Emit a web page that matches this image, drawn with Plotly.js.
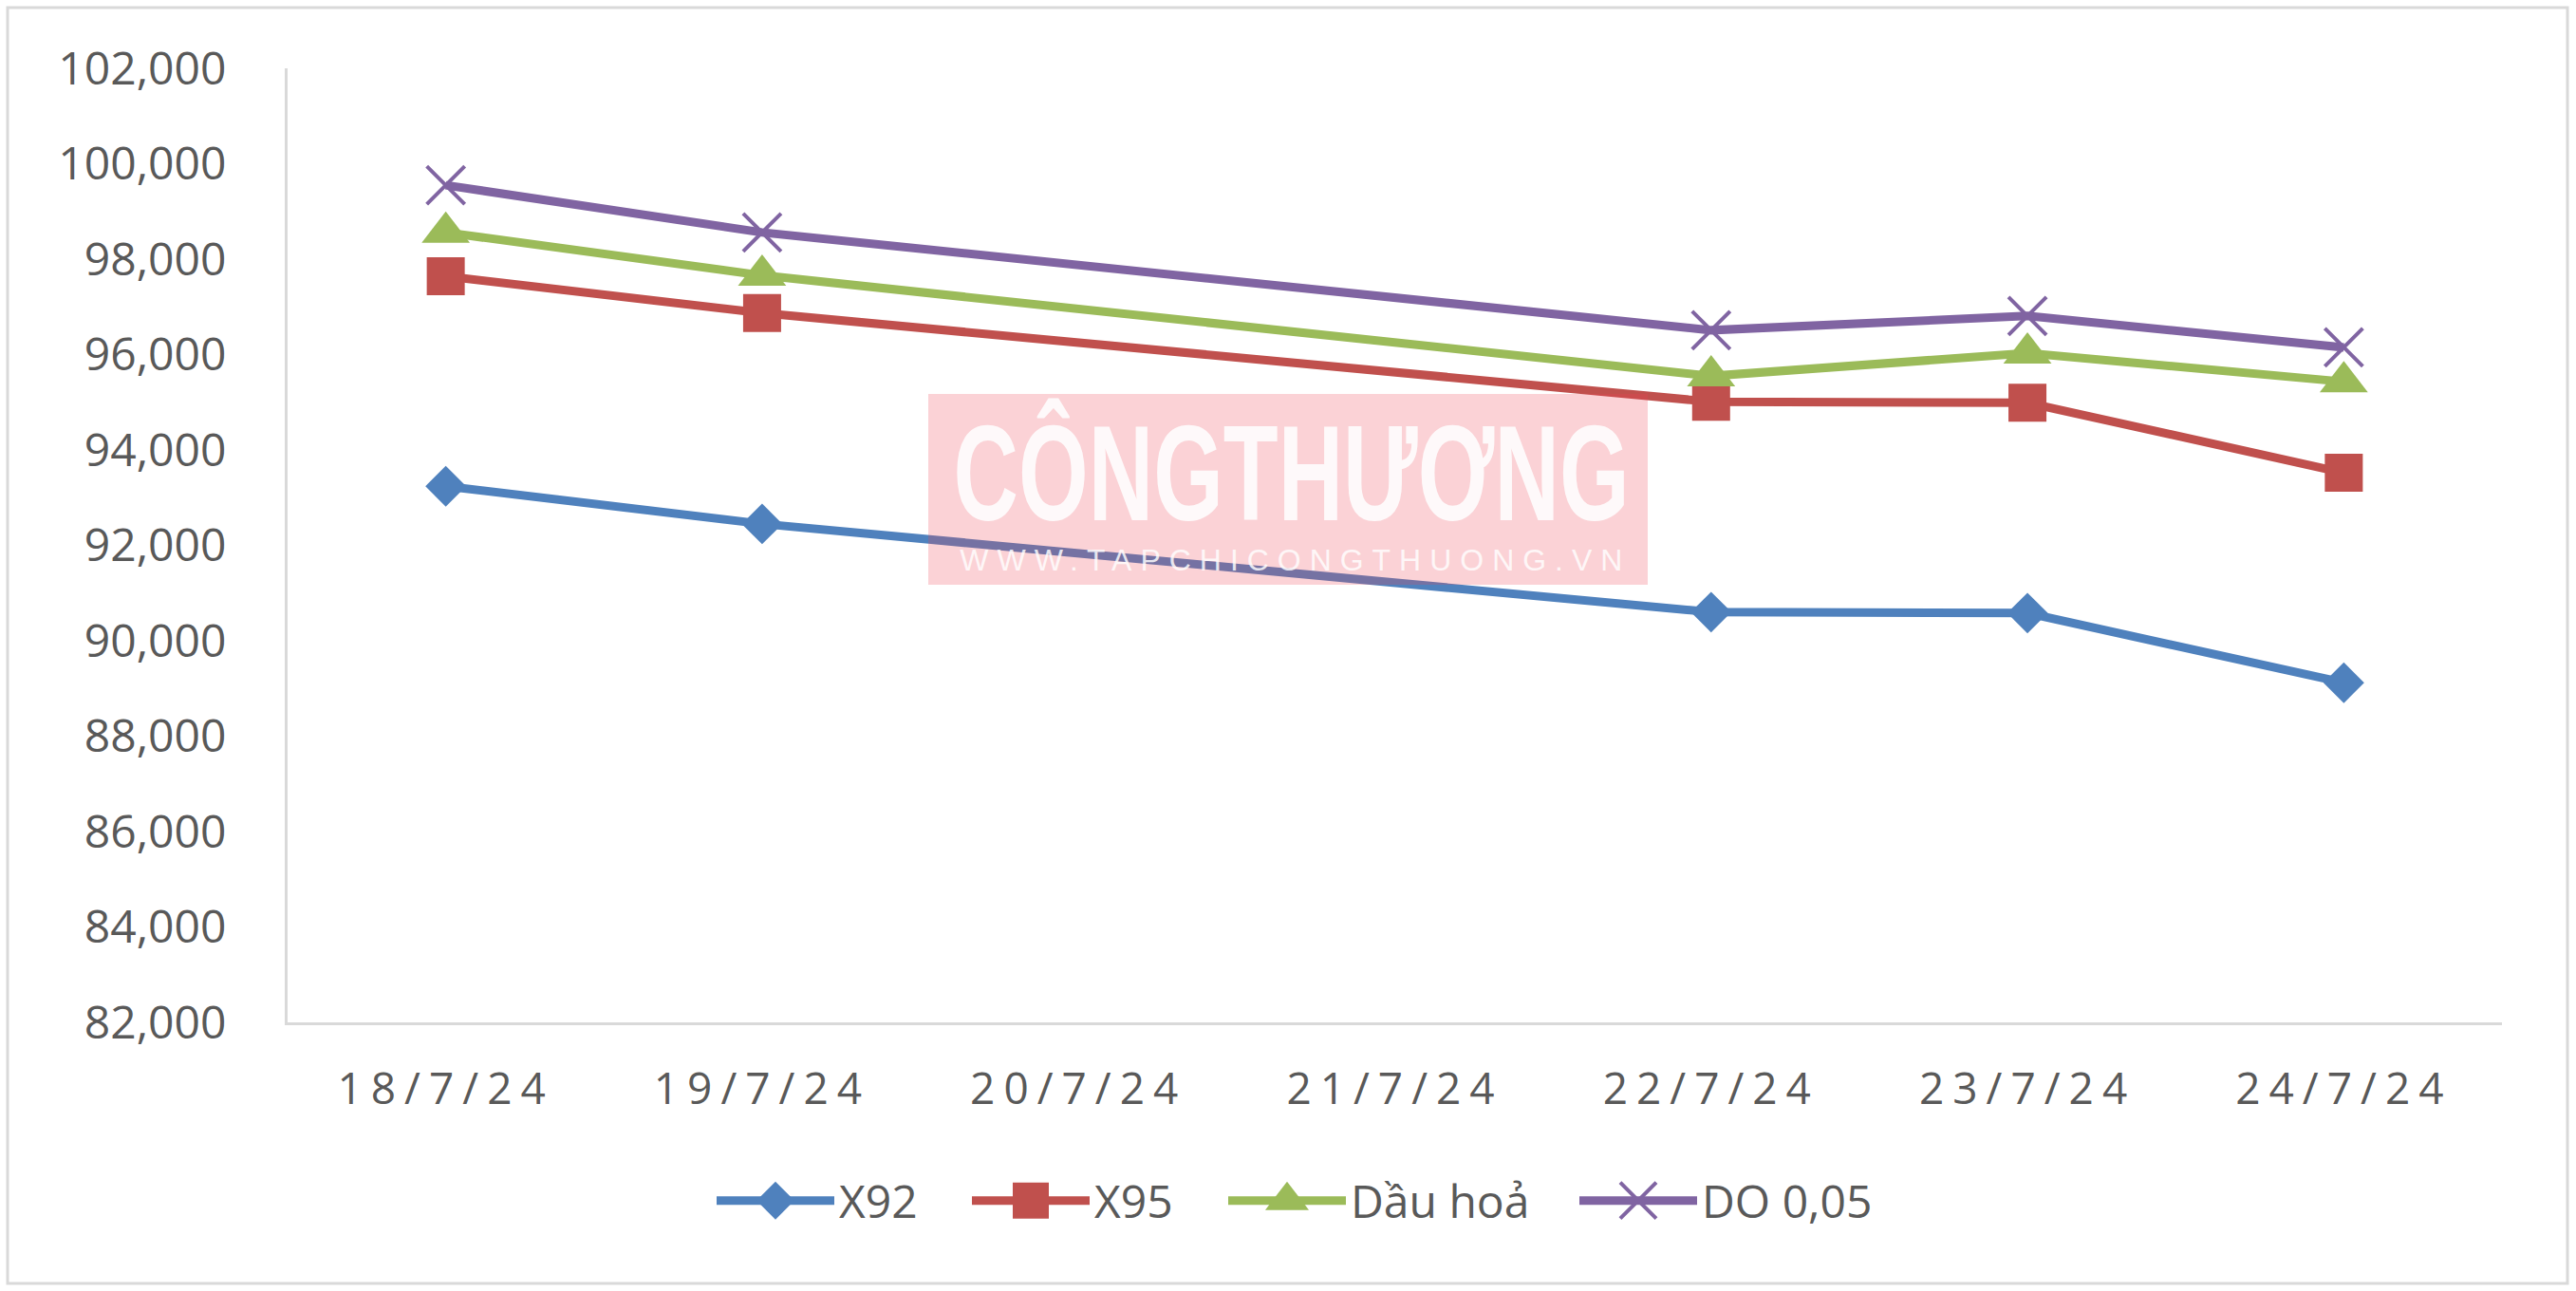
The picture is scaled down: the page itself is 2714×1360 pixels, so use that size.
<!DOCTYPE html>
<html>
<head>
<meta charset="utf-8">
<script src="https://cdn.plot.ly/plotly-3.0.1.min.js"></script>
<style>
  html, body { margin: 0; padding: 0; background: #ffffff; }
  #chart { width: 2714px; height: 1360px; }
</style>
</head>
<body>
<div id="chart"></div>
<script>
// ---- data ----
const categories = ['18/7/24', '19/7/24', '20/7/24', '21/7/24', '22/7/24', '23/7/24', '24/7/24'];
const x92    = [93240, 92450, null, null, 90600, 90580, 89120];
const x95    = [97640, 96870, null, null, 95010, 94990, 93520];
const dauHoa = [98560, 97660, null, null, 95550, 96030, 95430];
const do005  = [99550, 98560, null, null, 96510, 96810, 96150];
const seriesNames = ['X92', 'X95', 'Dầu hoả', 'DO 0,05'];
const yTickVals = [82000, 84000, 86000, 88000, 90000, 92000, 94000, 96000, 98000, 100000, 102000];
const watermarkTitle = 'CÔNGTHƯƠNG';
const watermarkUrl = 'WWW.TAPCHICONGTHUONG.VN';

const FONT = '"Open Sans", "Noto Sans", sans-serif';
const TEXT_COLOR = '#595959';

function lineTrace(name, y, color, marker, legendId) {
  return {
    type: 'scatter', mode: 'lines+markers', name: name,
    x: categories, y: y, connectgaps: true,
    line: { color: color, width: 9 },
    marker: marker, legend: legendId,
    hoverinfo: 'x+y+name'
  };
}

const traces = [
  lineTrace(seriesNames[0], x92, '#4F81BD', { symbol: 'diamond', size: 33, color: '#4F81BD' }, 'legend'),
  lineTrace(seriesNames[1], x95, '#C0504D', { symbol: 'square', size: 40, color: '#C0504D' }, 'legend2'),
  lineTrace(seriesNames[2], dauHoa, '#9BBB59', { symbol: 'triangle-up', size: 44, color: '#9BBB59' }, 'legend3'),
  lineTrace(seriesNames[3], do005, '#8064A2', { symbol: 'x-thin-open', size: 40, color: '#8064A2', line: { color: '#8064A2', width: 4 } }, 'legend4')
];

const L = 303, R = 78, T = 72, B = 283, W = 2714, H = 1360;
const pw = W - L - R, ph = H - T - B;
const px = v => (v - L) / pw;
const py = v => (H - B - v) / ph;

function legendAt(xStart) {
  return {
    orientation: 'h', x: px(xStart), xanchor: 'left', y: py(1265), yanchor: 'middle',
    font: { family: FONT, size: 48, color: TEXT_COLOR },
    itemwidth: 124, bgcolor: 'rgba(0,0,0,0)', borderwidth: 0
  };
}

const layout = {
  width: W, height: H,
  margin: { l: L, r: R, t: T, b: B, pad: 0 },
  paper_bgcolor: '#ffffff', plot_bgcolor: '#ffffff',
  font: { family: FONT, color: TEXT_COLOR, size: 48 },
  showlegend: true,
  xaxis: {
    type: 'category', range: [-0.5, 6.5],
    showgrid: false, zeroline: false,
    showline: true, linecolor: '#d9d9d9', linewidth: 3,
    ticks: 'outside', ticklen: 28, tickcolor: 'rgba(0,0,0,0)',
    tickfont: { family: FONT, size: 46, color: TEXT_COLOR },
    fixedrange: true
  },
  yaxis: {
    range: [82000, 102000], tickvals: yTickVals, tickformat: ',d',
    showgrid: false, zeroline: false,
    showline: true, linecolor: '#d9d9d9', linewidth: 3,
    ticks: 'outside', ticklen: 52, tickcolor: 'rgba(0,0,0,0)',
    tickfont: { family: FONT, size: 48, color: TEXT_COLOR },
    fixedrange: true
  },
  legend: legendAt(750),
  legend2: legendAt(1019),
  legend3: legendAt(1289),
  legend4: legendAt(1659),
  shapes: [
    { type: 'rect', xref: 'paper', yref: 'paper', layer: 'above',
      x0: px(978), x1: px(1736), y0: py(616), y1: py(415),
      fillcolor: 'rgba(239,68,82,0.24)', line: { width: 0 } },
    { type: 'rect', xref: 'paper', yref: 'paper', layer: 'below',
      x0: px(8), x1: px(2705), y0: py(1352), y1: py(8),
      fillcolor: 'rgba(0,0,0,0)', line: { color: '#d9d9d9', width: 3 } }
  ],
  annotations: [
    { xref: 'paper', yref: 'paper', x: px(1360), y: py(498), xanchor: 'center', yanchor: 'middle',
      text: watermarkTitle, showarrow: false, opacity: 0.88,
      font: { family: '"Liberation Sans", Arial, sans-serif', size: 142, weight: 'bold', color: '#ffffff' } },
    { xref: 'paper', yref: 'paper', x: px(1360), y: py(590), xanchor: 'center', yanchor: 'middle',
      text: watermarkUrl, showarrow: false, opacity: 0.82,
      font: { family: '"Liberation Sans", Arial, sans-serif', size: 32, color: '#ffffff' } }
  ],
  hovermode: 'closest'
};

const LEGEND_MARKER_TARGET = [40, 38, 46, 38];

function polish(gd) {
  gd.querySelectorAll('.xtick text').forEach(t => t.setAttribute('letter-spacing', '9px'));
  gd.querySelectorAll('.annotation-text').forEach(t => {
    const s = t.textContent;
    if (s === watermarkUrl) {
      t.setAttribute('textLength', '698');
      t.setAttribute('lengthAdjust', 'spacing');
    } else if (s === watermarkTitle) {
      t.setAttribute('textLength', '712');
      t.setAttribute('lengthAdjust', 'spacingAndGlyphs');
    }
  });
  gd.querySelectorAll('.legendpoints path').forEach((p, j) => {
    let idx = j;
    const g = p.closest('.traces');
    if (g && g.__data__ && g.__data__[0] && g.__data__[0].trace) idx = g.__data__[0].trace.index;
    if (p.dataset.orig === undefined) p.dataset.orig = p.getAttribute('transform') || '';
    p.setAttribute('transform', p.dataset.orig);
    const bb = p.getBBox();
    const size = Math.max(bb.width, bb.height);
    if (size > 0 && LEGEND_MARKER_TARGET[idx]) {
      const k = LEGEND_MARKER_TARGET[idx] / size;
      p.setAttribute('transform', p.dataset.orig + ' scale(' + k + ')');
      if (idx === 3) p.style.strokeWidth = (4 / k) + 'px';
    }
  });
}

const gd = document.getElementById('chart');
Plotly.newPlot(gd, traces, layout, { displayModeBar: false, responsive: false }).then(() => {
  polish(gd);
});
</script>
</body>
</html>
